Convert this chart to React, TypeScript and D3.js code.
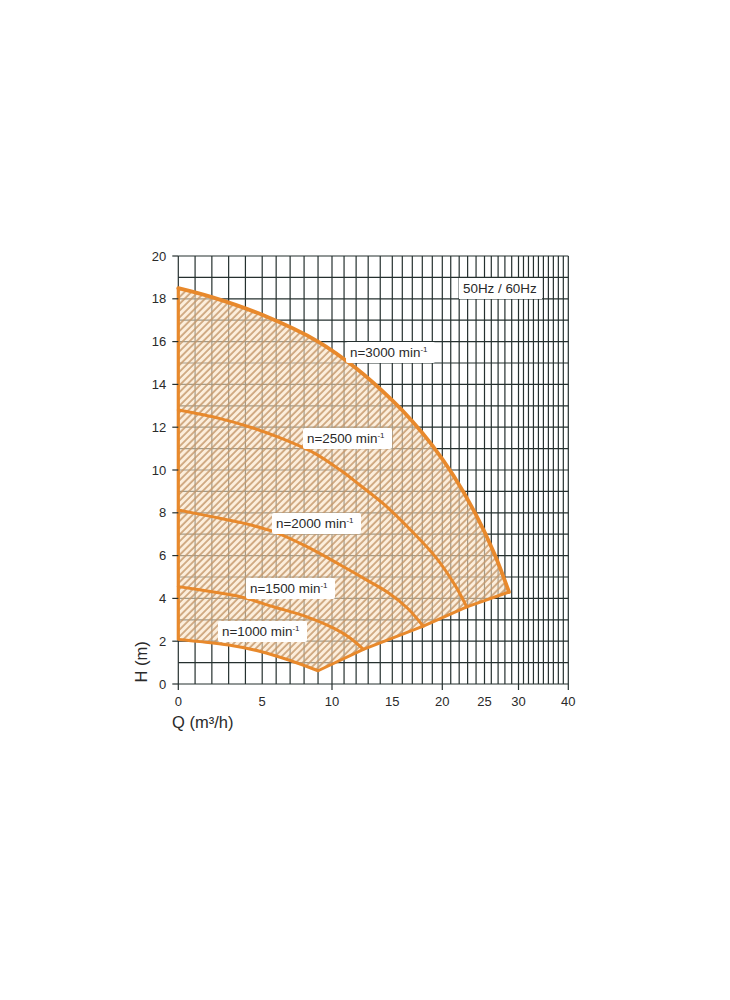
import React from 'react';
import * as d3 from 'd3';

// ---- data ----
const qTicks = [0, 5, 10, 15, 20, 25, 30, 40];
const hTicks = [0, 2, 4, 6, 8, 10, 12, 14, 16, 18, 20];
const qMajorTicks = [0, 10, 20, 30, 40];

const n3000Q = [0, 2, 5, 9, 12, 15, 17, 19, 21.3, 24, 26.5, 28.6];
const n3000H = [18.5, 18.08, 17.25, 16.0, 14.75, 13.25, 12.28, 11.15, 9.75, 7.9, 6.05, 4.3];

const n2500Q = [0, 2.5, 4.3, 6.1, 8.7, 10.8, 12.3, 14.3, 16.3, 19.3, 21.5, 22.9];
const n2500H = [12.8, 12.4, 12.0, 11.55, 10.8, 9.95, 9.3, 8.4, 7.45, 5.95, 4.62, 3.6];

const n2000Q = [0, 2, 3.7, 5.8, 8.2, 10.7, 13, 14.7, 16.5, 18.1];
const n2000H = [8.13, 7.82, 7.55, 7.12, 6.42, 5.56, 4.82, 4.25, 3.55, 2.7];

const n1500Q = [0, 2, 3.7, 5.8, 8.2, 10.1, 11.5, 12.6];
const n1500H = [4.55, 4.31, 4.08, 3.61, 3.14, 2.62, 2.15, 1.62];

const n1000Q = [0, 1.3, 3, 4.9, 6.9, 9];
const n1000H = [2.08, 1.98, 1.82, 1.52, 1.12, 0.62];

const speedNames = ['n=3000', 'n=2500', 'n=2000', 'n=1500', 'n=1000'];
const freqLabel = '50Hz / 60Hz';

type P = [number, number];
const zip = (q: number[], h: number[]): P[] => q.map((v, i) => [v, h[i]] as P);

export default function App() {
  const x = d3
    .scaleLinear()
    .domain(qTicks)
    .range([178.3, 262.2, 332, 392.3, 442.3, 484.5, 518.5, 568.3]);
  const y = d3.scaleLinear().domain([0, 20]).range([684, 256]);

  const curves: P[][] = [
    zip(n3000Q, n3000H),
    zip(n2500Q, n2500H),
    zip(n2000Q, n2000H),
    zip(n1500Q, n1500H),
    zip(n1000Q, n1000H),
  ];

  const line = d3
    .line<P>()
    .x((d) => x(d[0]))
    .y((d) => y(d[1]))
    .curve(d3.curveCatmullRom.alpha(0.5));
  const straight = d3
    .line<P>()
    .x((d) => x(d[0]))
    .y((d) => y(d[1]));

  const ends: P[] = curves.map((c) => c[c.length - 1]); // 3000 .. 1000
  const top = curves[0];
  const bottom = curves[4];

  const topPath = line(top) as string;
  const bottomRev = (line([...bottom].reverse()) as string).replace(/^M/, 'L');
  const boundaryPts = ends.slice(1).map((p) => `L${x(p[0])},${y(p[1])}`).join('');
  const regionPath = `${topPath}${boundaryPts}${bottomRev}Z`;

  const gridQ = d3.range(0, 41);
  const gridH = d3.range(0, 21);

  const font = "'Liberation Sans', Arial, sans-serif";
  const orange = '#e8892c';
  const gridColor = '#25302f';

  const labelPos: { tx: number; ty: number }[] = [
    { tx: 350, ty: 357 },
    { tx: 307, ty: 443 },
    { tx: 276, ty: 528 },
    { tx: 250, ty: 593 },
    { tx: 222, ty: 636 },
  ];

  return (
    <svg
      width={730}
      height={1000}
      style={{ position: 'absolute', left: 0, top: 0, background: '#fff' }}
      fontFamily={font}
    >
      <defs>
        <pattern
          id="hatch"
          patternUnits="userSpaceOnUse"
          width={4.8}
          height={4.8}
          patternTransform="rotate(45)"
        >
          <line x1={1} y1={0} x2={1} y2={4.8} stroke="#c4976a" strokeWidth={1.5} />
        </pattern>
      </defs>

      {/* grid */}
      <g stroke={gridColor} strokeWidth={1.2}>
        {gridQ.map((q) => (
          <line key={'v' + q} x1={x(q)} x2={x(q)} y1={y(0)} y2={y(20)} />
        ))}
        {gridH.map((h) => (
          <line key={'h' + h} x1={x(0)} x2={x(40)} y1={y(h)} y2={y(h)} />
        ))}
      </g>

      {/* hatched operating region */}
      <path d={regionPath} fill="#fae3c4" fillOpacity={0.6} stroke="none" />
      <path d={regionPath} fill="url(#hatch)" stroke="none" />

      {/* boundary: left edge + bottom limit line */}
      <path
        d={straight([
          [0, bottom[0][1]],
          [0, top[0][1]],
        ]) as string}
        fill="none"
        stroke={orange}
        strokeWidth={3.2}
      />
      <path
        d={straight(ends.slice().reverse()) as string}
        fill="none"
        stroke={orange}
        strokeWidth={3}
        strokeLinejoin="round"
      />
      {curves.map((c, i) => (
        <path
          key={speedNames[i]}
          d={line(c) as string}
          fill="none"
          stroke={orange}
          strokeWidth={i === 0 ? 3.8 : 3}
          strokeLinecap="round"
        />
      ))}

      {/* axis ticks */}
      <g stroke={gridColor} strokeWidth={1.2}>
        {hTicks.map((h) => (
          <line key={'yt' + h} x1={x(0) - 6} x2={x(0)} y1={y(h)} y2={y(h)} />
        ))}
        {qMajorTicks.map((q) => (
          <line key={'xt' + q} x1={x(q)} x2={x(q)} y1={y(0)} y2={y(0) + 6} />
        ))}
      </g>

      {/* tick labels */}
      <g fontSize={13} fill="#2a2a2a">
        {hTicks.map((h) => (
          <text key={'yl' + h} x={x(0) - 12} y={y(h)} dy="0.35em" textAnchor="end">
            {h}
          </text>
        ))}
        {qTicks.map((q) => (
          <text key={'xl' + q} x={x(q)} y={706} textAnchor="middle">
            {q}
          </text>
        ))}
      </g>

      {/* axis titles */}
      <text
        transform={`translate(147, 662) rotate(-90)`}
        textAnchor="middle"
        fontSize={16.5}
        fill="#2a2a2a"
      >
        H (m)
      </text>
      <text x={172} y={728} fontSize={16.5} fill="#2a2a2a">
        Q (m³/h)
      </text>

      {/* frequency label */}
      <rect x={459} y={278} width={83} height={21} fill="#fff" />
      <text x={463} y={293} fontSize={13.4} fill="#2a2a2a">
        {freqLabel}
      </text>

      {/* speed labels */}
      {speedNames.map((name, i) => {
        const p = labelPos[i];
        return (
          <g key={'lab' + name}>
            <rect x={p.tx - 4} y={p.ty - 15} width={89} height={21} rx={2} fill="#fff" />
            <text x={p.tx} y={p.ty} fontSize={13.4} fill="#2a2a2a">
              {name} min
              <tspan fontSize={8} dy={-5}>
                -1
              </tspan>
            </text>
          </g>
        );
      })}
    </svg>
  );
}
